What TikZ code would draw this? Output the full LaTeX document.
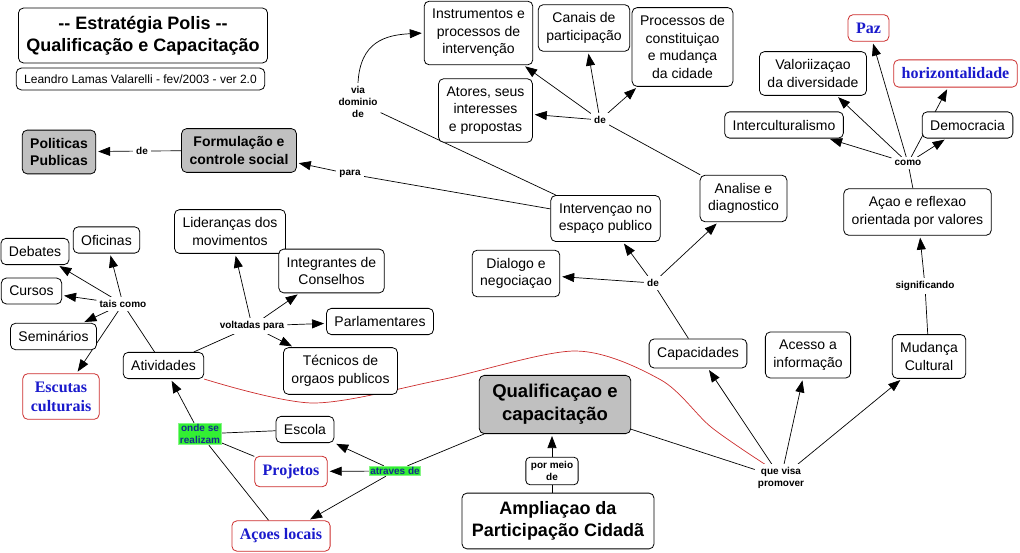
\documentclass[tikz,border=0pt]{standalone}
\usepackage{fontspec}
\setmainfont{Liberation Sans}
\newfontfamily\timesfont{Liberation Serif}
\usetikzlibrary{arrows.meta,backgrounds}
\definecolor{cmapgray}{RGB}{192,192,192}
\definecolor{cmapred}{RGB}{204,45,45}
\definecolor{cmapblue}{RGB}{26,26,204}
\definecolor{cmapgreen}{RGB}{51,240,51}
\definecolor{cmapnavy}{RGB}{20,45,140}
\tikzset{
  >={Triangle[length=12pt,width=9pt]},
  concept/.style={draw,rounded corners=5pt,fill=white,align=center,line width=0.8pt,
    inner xsep=8pt,inner ysep=8pt,font=\fontsize{14}{17.5}\selectfont},
  grayconcept/.style={concept,fill=cmapgray,font=\bfseries\fontsize{14}{17.5}\selectfont},
  redconcept/.style={concept,draw=cmapred,text=cmapblue,font=\timesfont\bfseries\fontsize{16}{19}\selectfont},
  linkphrase/.style={fill=white,align=center,inner sep=3pt,font=\bfseries\fontsize{10}{12}\selectfont},
  greenphrase/.style={linkphrase,fill=cmapgreen,draw=cmapgreen!60,line width=1pt,text=cmapnavy,inner sep=1pt},
  conn/.style={line width=0.7pt},
  arr/.style={conn,->,shorten >=2pt},
}
\begin{document}
\begin{tikzpicture}[x=1pt,y=-1pt]
    \useasboundingbox (0,0) rectangle (1020,553);
    %% Header
    \node[concept,font=\bfseries\fontsize{18}{22}\selectfont] (title) at (143,35.5)
        {-{}- Estratégia Polis -{}-\\Qualificação e Capacitação};
    \node[concept,font=\fontsize{12}{14}\selectfont,inner ysep=6.5pt] (author) at (140.5,79)
        {Leandro Lamas Valarelli - fev/2003 - ver 2.0};
    %% Upper left
    \node[grayconcept] (polit) at (59,152) {Politicas\\Publicas};
    \node[grayconcept] (formul) at (239,150.5) {Formulação e\\controle social};
    \node[linkphrase] (deA) at (142,151) {de};
    \node[linkphrase] (para) at (350,174) {para};
    \node[linkphrase] (viadom) at (358,102) {via\\dominio\\de};
    %% Upper middle
    \node[concept] (instr) at (478.5,33) {Instrumentos e\\processos de\\intervenção};
    \node[concept] (canais) at (584,28) {Canais de\\participação};
    \node[concept] (proces) at (682.5,47) {Processos de\\constituiçao\\e mudança\\da cidade};
    \node[concept] (atores) at (485.5,110.5) {Atores, seus\\interesses\\e propostas};
    \node[linkphrase] (deB) at (600,120) {de};
    \node[concept] (analise) at (743.5,198.5) {Analise e\\diagnostico};
    \node[concept] (interv) at (605.5,218.5) {Intervençao no\\espaço publico};
    \node[concept] (dialogo) at (516,273.5) {Dialogo e\\negociaçao};
    \node[linkphrase] (deC) at (653,283) {de};
    %% Right side
    \node[concept] (capac) at (698,353.5) {Capacidades};
    \node[concept] (acesso) at (808,355) {Acesso a\\informação};
    \node[concept] (mudanca) at (929,356.5) {Mudança\\Cultural};
    \node[linkphrase] (signif) at (925,286) {significando};
    \node[concept] (acao) at (917.5,212) {Açao e reflexao\\orientada por valores};
    \node[linkphrase] (como) at (908,163) {como};
    \node[concept] (intercult) at (784,125) {Interculturalismo};
    \node[concept] (valor) at (813,73.5) {Valoriizaçao\\da diversidade};
    \node[redconcept] (paz) at (868.5,28) {Paz};
    \node[redconcept] (horiz) at (955.5,73.5) {horizontalidade};
    \node[concept] (democ) at (967.5,125) {Democracia};
    \node[linkphrase] (visa) at (781,478) {que visa\\promover};
    %% Centre bottom
    \node[grayconcept,font=\bfseries\fontsize{18.5}{23}\selectfont,inner xsep=13pt,inner ysep=9pt]
        (qualif) at (555,404.5) {Qualificaçao e\\capacitação};
    \node[linkphrase,draw,rounded corners=4pt,line width=0.8pt,inner xsep=5pt,inner ysep=4pt]
        (pormeio) at (552,471) {por meio\\de};
    \node[concept,font=\bfseries\fontsize{18}{22}\selectfont,inner xsep=10pt,inner ysep=8.5pt]
        (amplia) at (558,521) {Ampliaçao da\\Participação Cidadã};
    \node[greenphrase] (atraves) at (395,471) {atraves de};
    \node[concept] (escola) at (305,429.5) {Escola};
    \node[redconcept] (projetos) at (291,471.5) {Projetos};
    \node[redconcept] (acoes) at (281,536) {Açoes locais};
    \node[greenphrase] (onde) at (200,434) {onde se\\realizam};
    %% Left side
    \node[concept] (ativ) at (163.5,365.5) {Atividades};
    \node[linkphrase] (taiscomo) at (123,304) {tais como};
    \node[concept] (debates) at (35,251.5) {Debates};
    \node[concept] (oficinas) at (106.5,240) {Oficinas};
    \node[concept] (cursos) at (31.5,291) {Cursos};
    \node[concept] (seminarios) at (53.5,336.5) {Seminários};
    \node[redconcept] (escutas) at (61,396.5) {Escutas\\culturais};
    \node[linkphrase] (voltadas) at (252,326) {voltadas para};
    \node[concept] (lider) at (230,231.5) {Lideranças dos\\movimentos};
    \node[concept] (integr) at (331.5,271) {Integrantes de\\Conselhos};
    \node[concept] (parlam) at (380,321.5) {Parlamentares};
    \node[concept] (tecnicos) at (340.5,371) {Técnicos de\\orgaos publicos};
    %% Connectors
    \begin{pgfonlayer}{background}
        \draw[conn] (formul) -- (deA); \draw[arr] (deA) -- (polit);
        \draw[conn] (interv) -- (para); \draw[arr] (para) -- (formul);
        \draw[conn] (interv) -- (viadom);
        \draw[arr] (viadom.north) .. controls (360,42) and (385,35) .. (instr.west);
        \draw[conn] (analise) -- (deB);
        \foreach \t in {atores,instr,canais,proces} \draw[arr] (deB) -- (\t);
        \draw[conn] (capac) -- (deC);
        \foreach \t in {dialogo,interv,analise} \draw[arr] (deC) -- (\t);
        \draw[conn] (qualif) -- (visa);
        \foreach \t in {capac,acesso,mudanca} \draw[arr] (visa) -- (\t);
        \draw[conn] (mudanca) -- (signif); \draw[arr] (signif) -- (acao);
        \draw[conn] (acao) -- (como);
        \foreach \t in {intercult,valor,paz,democ,horiz} \draw[arr] (como) -- (\t);
        \draw[conn] (pormeio.south) -- (pormeio.south |- amplia.north);
        \draw[arr] (pormeio.north) -- (pormeio.north |- qualif.south);
        \draw[conn] (qualif) -- (atraves);
        \foreach \t in {escola,projetos,acoes} \draw[arr] (atraves) -- (\t);
        \foreach \t in {escola,projetos,acoes} \draw[conn] (\t) -- (onde);
        \draw[arr] (onde) -- (ativ);
        \draw[conn] (ativ) -- (taiscomo);
        \foreach \t in {oficinas,debates,cursos,seminarios,escutas} \draw[arr] (taiscomo) -- (\t);
        \draw[conn] (ativ) -- (voltadas);
        \foreach \t in {lider,integr,parlam,tecnicos} \draw[arr] (voltadas) -- (\t);
        %% Cross link
        \draw[conn,cmapred] plot[smooth] coordinates {(ativ.south east) (313,403) (440,380)
            (575,351) (661,380) (711,427) ([xshift=10pt]visa.north west)};
    \end{pgfonlayer}
\end{tikzpicture}
\end{document}
